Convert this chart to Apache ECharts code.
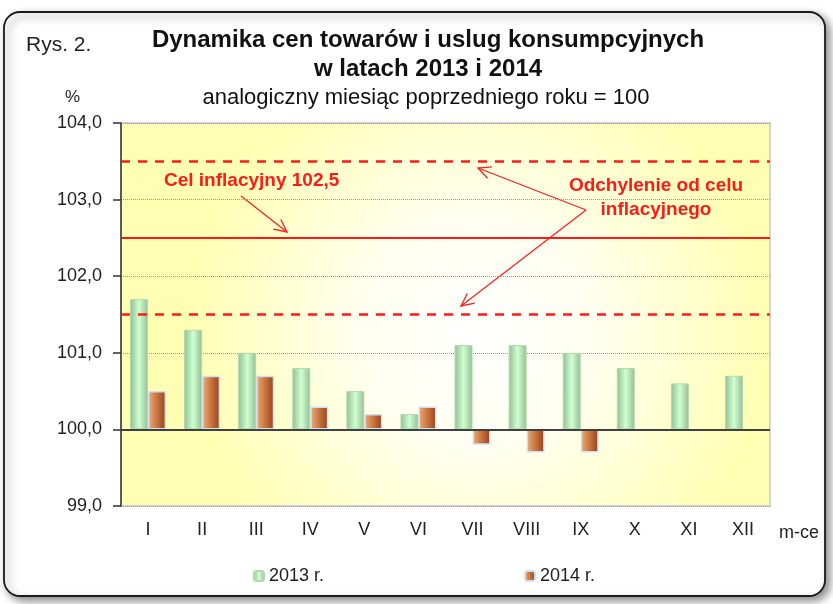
<!DOCTYPE html>
<html>
<head>
<meta charset="utf-8">
<script src="https://cdn.jsdelivr.net/npm/echarts@6/dist/echarts.min.js"></script>
<style>
  html, body { margin: 0; padding: 0; background: #fff; }
  #chart { width: 833px; height: 604px; }
</style>
</head>
<body>
<div id="chart"></div>
<script>
// miesiące
var months = ["I", "II", "III", "IV", "V", "VI", "VII", "VIII", "IX", "X", "XI", "XII"];
// analogiczny miesiąc poprzedniego roku = 100
var values2013 = [101.7, 101.3, 101.0, 100.8, 100.5, 100.2, 101.1, 101.1, 101.0, 100.8, 100.6, 100.7];
var values2014 = [100.5, 100.7, 100.7, 100.3, 100.2, 100.3, 99.8, 99.7, 99.7];
var seriesNames = ["2013 r.", "2014 r."];
var yTicks = [99, 100, 101, 102, 103, 104];
var target = 102.5;
var deviation = [101.5, 103.5];
var base = 100;

var font = "'Liberation Sans', Arial, sans-serif";

// słupki rysujemy od poziomu 100
function fromBase(arr) {
  return arr.map(function (v) { return Math.round((v - base) * 10) / 10; });
}

// strzałka z otwartym grotem
function arrow(x1, y1, x2, y2) {
  var a = Math.atan2(y2 - y1, x2 - x1);
  var len = 14, spread = 0.45;
  var p1 = [x2 - len * Math.cos(a - spread), y2 - len * Math.sin(a - spread)];
  var p2 = [x2 - len * Math.cos(a + spread), y2 - len * Math.sin(a + spread)];
  var st = { stroke: "#ff2020", lineWidth: 1.3, fill: null };
  return {
    type: "group",
    children: [
      { type: "line", shape: { x1: x1, y1: y1, x2: x2, y2: y2 }, style: st },
      { type: "polyline", shape: { points: [p1, [x2, y2], p2] }, style: st }
    ]
  };
}

var chart = echarts.init(document.getElementById("chart"));

var green = new echarts.graphic.LinearGradient(0, 0, 1, 0, [
  { offset: 0, color: "#92bd94" },
  { offset: 0.5, color: "#d0ffd0" },
  { offset: 1, color: "#92bd94" }
]);
var brown = new echarts.graphic.LinearGradient(0, 0, 1, 0, [
  { offset: 0, color: "#eab07e" },
  { offset: 0.5, color: "#c8743e" },
  { offset: 1, color: "#93421a" }
]);

chart.setOption({
  backgroundColor: "#fff",
  animation: false,
  title: [
    {
      text: "Dynamika cen towarów i uslug konsumpcyjnych\nw latach 2013 i 2014",
      left: 428,
      top: 26,
      textAlign: "center",
      padding: 0,
      textStyle: { fontFamily: font, fontSize: 24, fontWeight: "bold", color: "#111", lineHeight: 29 }
    },
    {
      text: "analogiczny miesiąc poprzedniego roku = 100",
      left: 426,
      top: 87,
      textAlign: "center",
      padding: 0,
      textStyle: { fontFamily: font, fontSize: 22, fontWeight: "normal", color: "#111" }
    }
  ],
  grid: {
    left: 121,
    right: 63,
    top: 123,
    bottom: 98,
    show: true,
    borderColor: "#d4d4d4",
    borderWidth: 2,
    backgroundColor: new echarts.graphic.RadialGradient(0.55, 0.55, 0.75, [
      { offset: 0, color: "#ffffff" },
      { offset: 0.4, color: "#fffff0" },
      { offset: 1, color: "#ffffb4" }
    ])
  },
  legend: {
    left: 248,
    top: 562,
    itemWidth: 10,
    itemHeight: 10,
    itemGap: 200,
    textStyle: { fontFamily: font, fontSize: 18, color: "#222" },
    data: seriesNames
  },
  xAxis: {
    type: "category",
    data: months,
    axisLine: { show: false },
    axisTick: { show: false },
    axisLabel: { fontFamily: font, fontSize: 18, color: "#222", margin: 15 }
  },
  yAxis: {
    type: "value",
    min: yTicks[0] - base,
    max: yTicks[yTicks.length - 1] - base,
    interval: 1,
    axisLine: { show: true, lineStyle: { color: "#333", width: 1.5 } },
    axisTick: { show: true, length: 8, lineStyle: { color: "#333", width: 1.5 } },
    axisLabel: {
      fontFamily: font, fontSize: 18, color: "#222", margin: 19,
      formatter: function (v) { return (v + base).toFixed(1).replace(".", ","); }
    },
    splitLine: { show: true, lineStyle: { color: "#9a9a9a", type: "dotted", width: 1 } }
  },
  series: [
    {
      name: seriesNames[0],
      type: "bar",
      barWidth: 18,
      barGap: "0%",
      data: fromBase(values2013),
      itemStyle: { color: green, borderColor: "#b4d8ac", borderWidth: 1 },
      markLine: {
        symbol: "none",
        silent: true,
        label: { show: false },
        data: [
          { yAxis: 0, lineStyle: { color: "#404040", width: 2, type: "solid" } },
          { yAxis: target - base, lineStyle: { color: "#ff1a1a", width: 2, type: "solid" } },
          { yAxis: deviation[0] - base, lineStyle: { color: "#ff1a1a", width: 2.5, type: [9, 8] } },
          { yAxis: deviation[1] - base, lineStyle: { color: "#ff1a1a", width: 2.5, type: [9, 8] } }
        ]
      }
    },
    {
      name: seriesNames[1],
      type: "bar",
      barWidth: 18,
      data: fromBase(values2014),
      itemStyle: { color: brown, borderColor: "#cfe0f4", borderWidth: 1.5 }
    }
  ],
  graphic: [
    {
      type: "rect",
      z: -10,
      shape: { x: 4, y: 12, width: 821, height: 584, r: 16 },
      style: {
        fill: "#fff", stroke: "#1a1a1a", lineWidth: 1.8,
        shadowBlur: 8, shadowOffsetX: 4, shadowOffsetY: 4, shadowColor: "rgba(0,0,0,0.45)"
      }
    },
    { type: "text", left: 26, top: 35, style: { text: "Rys. 2.", font: "21px " + font, fill: "#222" } },
    { type: "text", left: 65, top: 89, style: { text: "%", font: "17px " + font, fill: "#222" } },
    { type: "text", left: 164, top: 171, style: { text: "Cel inflacyjny 102,5", font: "bold 19px " + font, fill: "#ff1a1a" } },
    {
      type: "text", x: 656, y: 174,
      style: {
        text: "Odchylenie od celu\ninflacyjnego", font: "bold 19px " + font, fill: "#ff1a1a",
        align: "center", textAlign: "center", verticalAlign: "top", lineHeight: 24
      }
    },
    { type: "text", left: 779, top: 524, style: { text: "m-ce", font: "18px " + font, fill: "#222" } },
    arrow(241, 196, 287, 232),
    arrow(586, 210, 478, 168),
    arrow(586, 210, 461, 306)
  ]
});
</script>
</body>
</html>
